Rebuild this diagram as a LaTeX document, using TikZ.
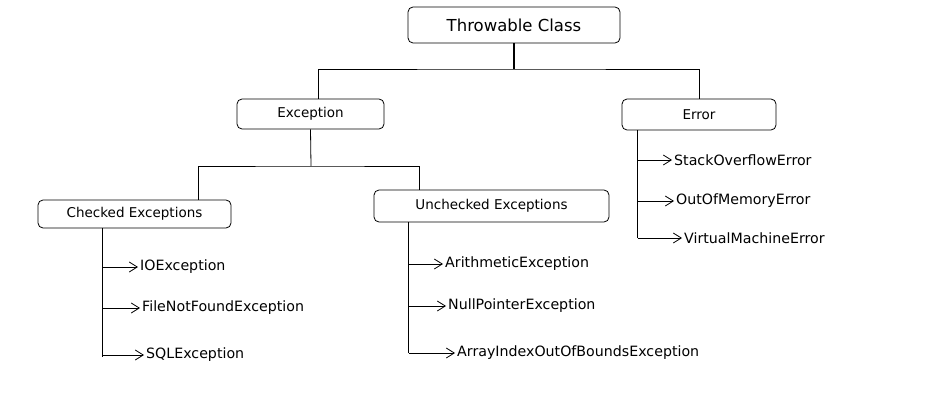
\documentclass[tikz,border=0pt]{standalone}
\usepackage{fontspec}
\setmainfont{DejaVu Sans}
\usepackage{tikz}
\usetikzlibrary{
    positioning,
    arrows.meta,
}
\tikzset{
    % Box styles
    box/.style={rectangle, draw, rounded corners=5pt, fill=white, line width=0.8pt,
                inner sep=0pt, font=\fontsize{13.5}{15}\selectfont},
    title box/.style={box, font=\fontsize{16.5}{19}\selectfont},
    leaf/.style={anchor=west, inner sep=2pt, font=\fontsize{14.2}{16}\selectfont},
    % Line styles
    tree line/.style={line width=0.8pt},
    trunk line/.style={line width=2.2pt},
    leaf arrow/.style={line width=0.8pt, -{Straight Barb[length=8pt, width=10pt]}},
}

\begin{document}
\begin{tikzpicture}[x=1pt, y=-1pt]
    \useasboundingbox (0,0) rectangle (936,401);

    % Class boxes
    \node[title box, minimum width=212pt, minimum height=36pt] (throwable) at (514,25) {Throwable Class};
    \node[box, minimum width=147pt, minimum height=30pt] (exception) at (310.5,114) {Exception};
    \node[box, minimum width=154pt, minimum height=31pt] (error) at (699,114.5) {Error};
    \node[box, minimum width=193pt, minimum height=28pt] (checked) at (134.5,214) {Checked Exceptions};
    \node[box, minimum width=235pt, minimum height=32pt] (unchecked) at (491.5,206) {Unchecked Exceptions};

    % Leaves
    \node[leaf] (io) at (138,267) {IOException};
    \node[leaf] (fnf) at (140,308) {FileNotFoundException};
    \node[leaf] (sql) at (144,355) {SQLException};
    \node[leaf] (arith) at (443,264) {ArithmeticException};
    \node[leaf] (npe) at (446,306) {NullPointerException};
    \node[leaf] (aioobe) at (455,353) {ArrayIndexOutOfBoundsException};
    \node[leaf] (soe) at (672,160) {StackOverflowError};
    \node[leaf] (oom) at (674,201) {OutOfMemoryError};
    \node[leaf] (vme) at (682,238) {VirtualMachineError};

    % Tree lines
    \coordinate (j1) at (514,69);
    \coordinate (j2) at (311,166);
    \draw[trunk line] (throwable.south) -- (j1);
    \draw[tree line] ([xshift=8pt]exception.north) |- (j1) -| (error.north);
    \draw[tree line] (exception.south) -- (j2);
    \draw[tree line] ([xshift=64pt]checked.north) |- (j2) -| ([xshift=-72pt]unchecked.north);

    % Spines
    \coordinate (ckspine) at ([xshift=65pt]checked.south west);
    \coordinate (unspine) at ([xshift=35pt]unchecked.south west);
    \coordinate (erspine) at ([xshift=16pt]error.south west);
    \draw[tree line] (ckspine) -- ([yshift=-2pt]ckspine |- sql.west);
    \draw[tree line] (unspine) -- (unspine |- aioobe.west);
    \draw[tree line] (erspine) -- (erspine |- vme.west);

    % Arrows
    \foreach \s/\t in {ckspine/io, ckspine/fnf, ckspine/sql,
                       unspine/arith, unspine/npe, unspine/aioobe,
                       erspine/soe, erspine/oom, erspine/vme}
        \draw[leaf arrow] (\s |- \t.west) -- (\t.west);
\end{tikzpicture}
\end{document}
